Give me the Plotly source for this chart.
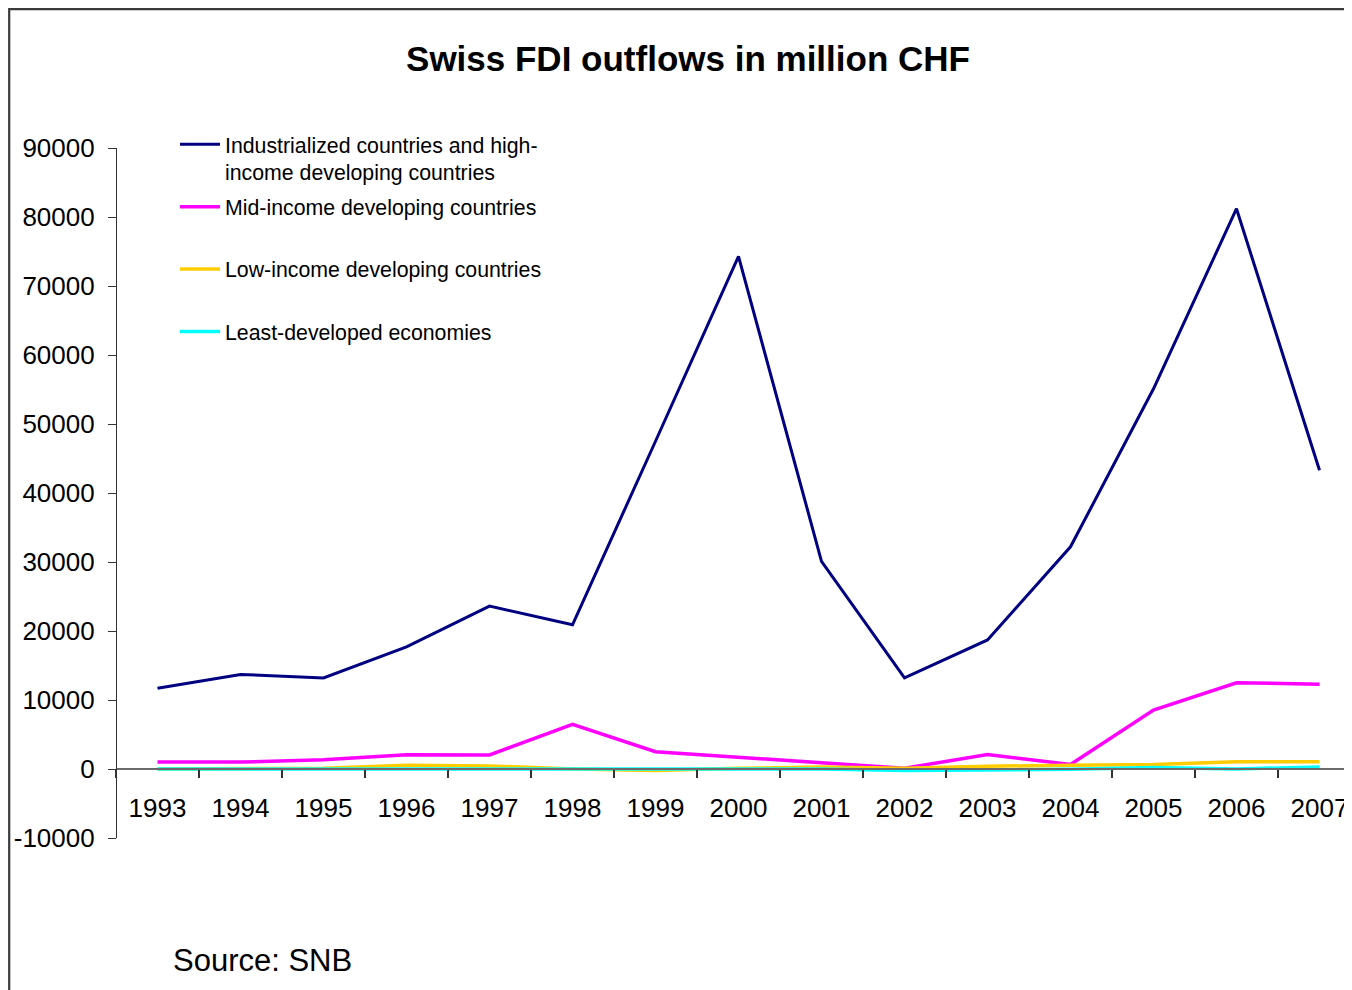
import plotly.graph_objects as go

# ---------------- data ----------------
years = [1993, 1994, 1995, 1996, 1997, 1998, 1999, 2000, 2001, 2002, 2003, 2004, 2005, 2006, 2007]
year_labels = [str(y) for y in years]

industrialized = [11700, 13700, 13200, 17700, 23600, 20900, 47500, 74300, 30100, 13200, 18700, 32200, 55100, 81200, 43300]
mid_income = [1000, 1000, 1350, 2050, 2030, 6480, 2500, 1700, 900, 100, 2100, 650, 8550, 12500, 12300]
low_income = [0, 0, 100, 550, 450, 0, -200, 100, 300, 100, 400, 550, 650, 1050, 1050]
least_developed = [0, 0, 0, 0, 0, 0, 0, 0, 0, -200, -100, -50, 200, 0, 300]

series_names = [
    "Industrialized countries and high-<br>income developing countries",
    "Mid-income developing countries<br>\u00a0",
    "Low-income developing countries<br>\u00a0",
    "Least-developed economies<br>\u00a0",
]
series_values = [industrialized, mid_income, low_income, least_developed]
series_colors = ["#000080", "#FF00FF", "#FFCC00", "#00FFFF"]
series_widths = [3, 3.5, 3.5, 3.5]

y_tickvals = [-10000, 0, 10000, 20000, 30000, 40000, 50000, 60000, 70000, 80000, 90000]
y_ticktext = ["-10000", "0", "10000", "20000", "30000", "40000", "50000", "60000", "70000", "80000", "90000"]

title_text = "Swiss FDI outflows in million CHF"
source_text = "Source: SNB"

# ---------------- layout geometry ----------------
# the page places the figure 8px from the top-left corner
OFF = 8
W, H = 1352 - OFF, 990 - OFF
PL = 116 - OFF
PT = 148 - OFF
PB = H - (838 - OFF)
PR = 0
plot_w = W - PL - PR
plot_h = H - PT - PB
px_per_year = 83.0
x_start = years[0] - 0.5
x_end = x_start + plot_w / px_per_year
y_min, y_max = -10000, 90000


def px_to_paper_x(px):
    return (px - OFF - PL) / plot_w


def py_to_paper_y(py):
    return (H - PB - (py - OFF)) / plot_h


FONT = "Liberation Sans, Arial, sans-serif"

fig = go.Figure()
for i, (name, vals, col, lw) in enumerate(zip(series_names, series_values, series_colors, series_widths)):
    fig.add_trace(go.Scatter(
        x=years, y=vals, name=name, mode="lines",
        line=dict(color=col, width=lw),
        legendgroup="g%d" % i,
        hoverinfo="x+y",
    ))

zero_pos = (0 - y_min) / (y_max - y_min)

fig.update_layout(
    width=W, height=H,
    margin=dict(l=PL, r=PR, t=PT, b=PB, pad=0),
    paper_bgcolor="white", plot_bgcolor="white",
    font=dict(family=FONT, color="black", size=21.3),
    showlegend=True,
    legend=dict(
        x=px_to_paper_x(175), y=py_to_paper_y(124),
        xanchor="left", yanchor="top",
        bgcolor="rgba(0,0,0,0)", borderwidth=0,
        font=dict(family=FONT, size=21.3, color="black"),
        valign="top",
        itemwidth=40,
        tracegroupgap=4,
    ),
    title=dict(
        text=title_text,
        x=(688 - OFF) / W, xref="container", xanchor="center",
        y=1 - (59 - OFF) / H, yref="container", yanchor="middle",
        font=dict(family=FONT, size=35, color="black", weight="bold"),
    ),
    xaxis=dict(
        range=[x_start, x_end],
        anchor="free", position=zero_pos,
        showgrid=False, zeroline=False,
        showline=True, linecolor="#6b6b6b", linewidth=1.5,
        tickmode="array", tickvals=years, ticktext=year_labels,
        ticks="", ticklabelstandoff=16,
        tickfont=dict(family=FONT, size=26, color="black"),
        minor=dict(ticks="outside", tickmode="linear", tick0=x_start, dtick=1,
                   ticklen=8, tickwidth=1.5, tickcolor="#333333", showgrid=False),
    ),
    yaxis=dict(
        range=[y_min, y_max],
        anchor="free", position=0,
        showgrid=False, zeroline=False,
        showline=True, linecolor="#333333", linewidth=1.2,
        tickmode="array", tickvals=y_tickvals, ticktext=y_ticktext,
        ticks="outside", ticklen=8, tickwidth=1.2, tickcolor="#333333",
        ticklabelstandoff=8,
        tickfont=dict(family=FONT, size=26, color="black"),
    ),
)

# outer chart frame (top & left edges visible)
fig.add_shape(type="rect", xref="paper", yref="paper",
              x0=px_to_paper_x(OFF + 1.2), x1=px_to_paper_x(1352 + 20),
              y0=py_to_paper_y(990 + 20), y1=py_to_paper_y(OFF + 1.2),
              line=dict(color="#3a3a3a", width=2.2), fillcolor="rgba(0,0,0,0)",
              layer="below")

fig.add_annotation(text=source_text, xref="paper", yref="paper",
                   x=px_to_paper_x(171), y=py_to_paper_y(960),
                   xanchor="left", yanchor="middle", showarrow=False,
                   font=dict(family=FONT, size=31, color="black"))

fig.write_html("out.html")
